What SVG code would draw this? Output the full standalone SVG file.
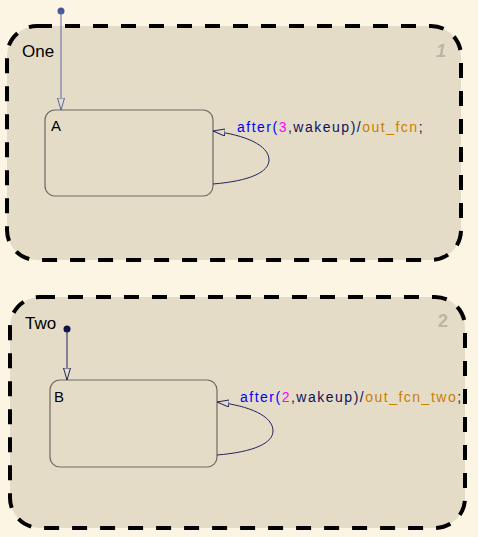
<svg xmlns="http://www.w3.org/2000/svg" width="478" height="537" viewBox="0 0 478 537">
<defs>
<style>
.bg{fill:#fdf5e3}
.super{fill:#e5dcc8;stroke:#000;stroke-width:4;stroke-dasharray:15,13}
.state{fill:#e5dcc8;stroke:#6e6a60;stroke-width:1.2}
.name{font-family:"Liberation Sans",Arial,sans-serif;font-size:17px;fill:#000}
.sname{font-family:"Liberation Sans",Arial,sans-serif;font-size:15px;fill:#000}
.num{font-family:"Liberation Sans",Arial,sans-serif;font-size:18px;font-weight:bold;fill:#bdb4a2}
.lbl{font-family:"Liberation Sans",Arial,sans-serif;font-size:14px;letter-spacing:1.5px}
.kw{fill:#0000ff}.n{fill:#ff00ff}.d{fill:#10105a}.f{fill:#c88000}
.tr{fill:none;stroke:#23235f;stroke-width:1}
.tr1{fill:none;stroke:#5a66a8;stroke-width:1}
</style>
<marker id="ah" viewBox="0 0 12 8" refX="12" refY="4" markerWidth="12" markerHeight="8" markerUnits="userSpaceOnUse" orient="auto">
<path d="M0,0.5 L12,4 L0,7.5 Z" fill="#e5dcc8" stroke="#23235f" stroke-width="1"/>
</marker>
<marker id="ah1" viewBox="0 0 12 8" refX="12" refY="4" markerWidth="12" markerHeight="8" markerUnits="userSpaceOnUse" orient="auto">
<path d="M0,0.5 L12,4 L0,7.5 Z" fill="#e5dcc8" stroke="#5a66a8" stroke-width="1"/>
</marker>
</defs>
<rect class="bg" x="0" y="0" width="478" height="537"/>
<g id="One">
<rect class="super" x="7" y="26" width="454" height="234" rx="30" ry="30"/>
<text class="name" x="22" y="57">One</text>
<text class="num" x="436" y="57" font-style="italic">1</text>
</g>
<g id="Two">
<rect class="super" x="10" y="297" width="455" height="231" rx="30" ry="30"/>
<text class="name" x="25" y="329">Two</text>
<text class="num" x="438" y="327">2</text>
</g>
<g id="A">
<rect class="state" x="45" y="110" width="168" height="86" rx="10" ry="10"/>
<text class="sname" x="51" y="131">A</text>
</g>
<g id="B">
<rect class="state" x="50" y="380" width="167" height="87" rx="10" ry="10"/>
<text class="sname" x="54" y="402">B</text>
</g>
<g id="connectors">
<circle cx="61" cy="11" r="3.5" fill="#4a55a0"/>
<line class="tr1" x1="61" y1="11" x2="61" y2="110" marker-end="url(#ah1)"/>
<circle cx="67" cy="329" r="3.5" fill="#10104a"/>
<line class="tr" x1="67" y1="329" x2="67" y2="380" marker-end="url(#ah)"/>
<path class="tr" d="M213,184 C250,181 269,172 269,160 C269,145 245,135 213,131" marker-end="url(#ah)"/>
<path class="tr" d="M217,455 C254,452 273,443 273,431 C273,416 250,406 217,402" marker-end="url(#ah)"/>
<text class="lbl" x="237" y="132"><tspan class="kw">after(</tspan><tspan class="n">3</tspan><tspan class="d">,wakeup)/</tspan><tspan class="f">out_fcn</tspan><tspan class="d">;</tspan></text>
<text class="lbl" x="240" y="402"><tspan class="kw">after(</tspan><tspan class="n">2</tspan><tspan class="d">,wakeup)/</tspan><tspan class="f">out_fcn_two</tspan><tspan class="d">;</tspan></text>
</g>
</svg>
